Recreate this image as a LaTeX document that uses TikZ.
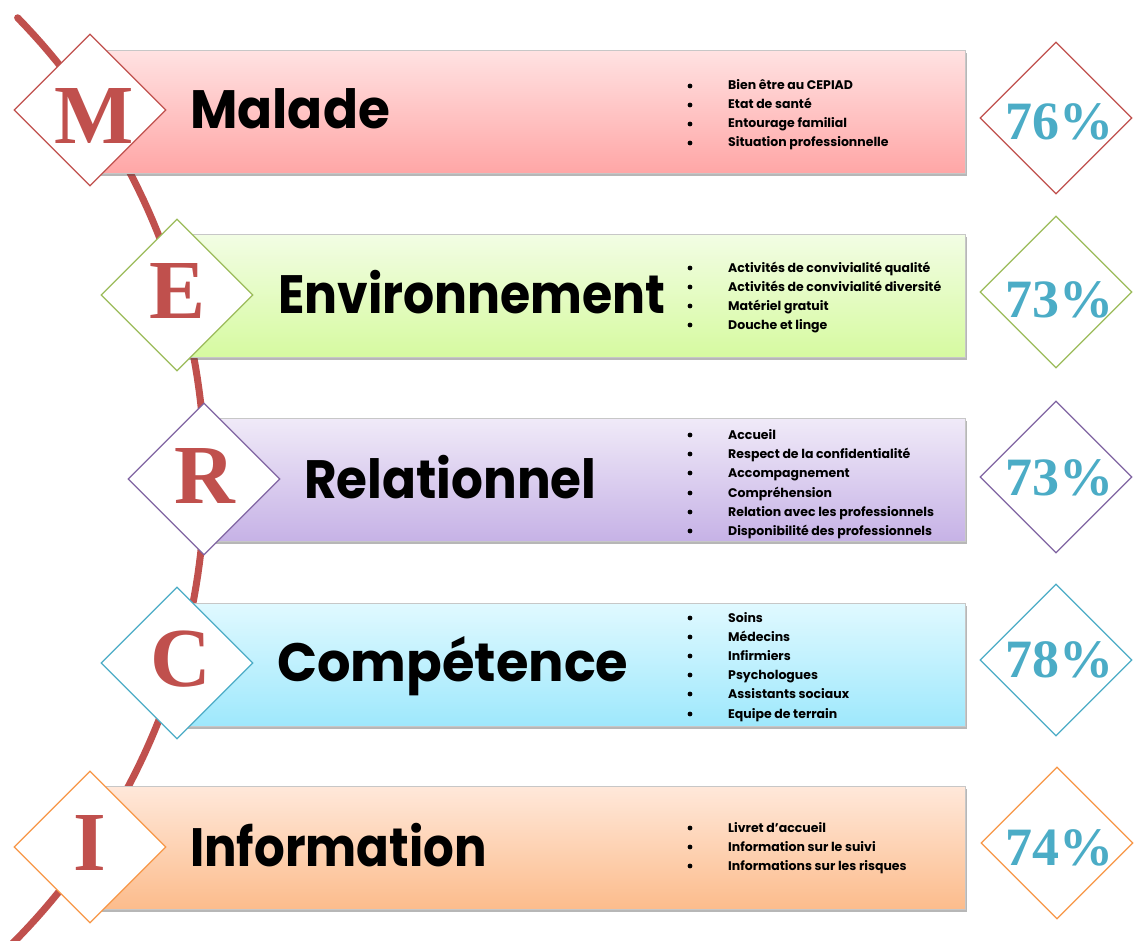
\documentclass[tikz,border=0pt]{standalone}
\usepackage{fontspec}
\usepackage{graphicx}
\setmainfont{Poppins}
\newfontfamily\serifb{Liberation Serif}
\usetikzlibrary{shapes.geometric,shadows}
\definecolor{cred}{RGB}{192,80,77}
\definecolor{cgreen}{RGB}{155,187,89}
\definecolor{cpurple}{RGB}{128,100,162}
\definecolor{caqua}{RGB}{75,172,198}
\definecolor{corange}{RGB}{247,150,70}
\definecolor{ra}{RGB}{255,226,226}\definecolor{rb}{RGB}{255,166,166}
\definecolor{ga}{RGB}{242,253,228}\definecolor{gb}{RGB}{214,250,160}
\definecolor{pa}{RGB}{240,234,248}\definecolor{pb}{RGB}{198,178,230}
\definecolor{aa}{RGB}{224,249,255}\definecolor{ab}{RGB}{158,232,252}
\definecolor{oa}{RGB}{255,232,218}\definecolor{ob}{RGB}{252,188,140}
\tikzset{
  bandbox/.style={draw=black!22, line width=0.7pt, anchor=north west, minimum height=123pt, inner sep=0pt,
    drop shadow={shadow xshift=2pt, shadow yshift=-3pt, opacity=0.4, fill=black!70}},
  lozenge/.style={diamond, draw=#1, fill=white, line width=1.2pt, minimum size=152pt, inner sep=0pt},
  letter/.style={text=cred, font=\serifb\bfseries\fontsize{84}{84}\selectfont, anchor=base, inner sep=0pt},
  pct/.style={text=caqua, font=\serifb\bfseries\fontsize{54}{54}\selectfont, anchor=base, inner sep=0pt},
  title/.style={font=\bfseries\fontsize{54}{54}\selectfont, anchor=base west, inner sep=0pt},
  item/.style={font=\bfseries\fontsize{12.5}{12.5}\selectfont, anchor=base west, inner sep=0pt},
  dot/.style={circle, fill=black, inner sep=0pt, minimum size=4.8pt},
  arcline/.style={draw=cred, line width=7pt, line cap=round}
}
\newcommand\bitem[3]{\node[dot] (#1d) at (690,#2-4) {}; \node[item] (#1) at (728,#2) {#3};}
\begin{document}
\begin{tikzpicture}[x=1pt,y=-1pt]
\useasboundingbox[fill=white] (0,0) rectangle (1134,941);
% curve
\draw[arcline] plot[domain=-44.3:46,samples=90] ({-454+659*cos(\x)},{478+659*sin(\x)});
% bands
\node[bandbox, top color=ra, bottom color=rb, minimum width=875pt] (b1) at (90,50) {};
\node[bandbox, top color=ga, bottom color=gb, minimum width=788pt] (b2) at (177,234) {};
\node[bandbox, top color=pa, bottom color=pb, minimum width=761pt] (b3) at (204,418) {};
\node[bandbox, top color=aa, bottom color=ab, minimum width=788pt] (b4) at (177,603) {};
\node[bandbox, top color=oa, bottom color=ob, minimum width=875pt] (b5) at (90,786) {};
% left diamonds
\node[lozenge=cred] (d1) at (90,110) {};
\node[lozenge=cgreen] (d2) at (177,295) {};
\node[lozenge=cpurple] (d3) at (204,479) {};
\node[lozenge=caqua] (d4) at (177,663) {};
\node[lozenge=corange] (d5) at (90,847) {};
\node[letter] (l1) at (94,144) {M};
\node[letter] (l2) at (178,318) {E};
\node[letter] (l3) at (205,503) {R};
\node[letter] (l4) at (181,686) {C};
\node[letter] (l5) at (90,870) {I};
% right diamonds
\node[lozenge=cred] (p1) at (1056,118) {};
\node[lozenge=cgreen] (p2) at (1056,292) {};
\node[lozenge=cpurple] (p3) at (1056,477) {};
\node[lozenge=caqua] (p4) at (1056,660) {};
\node[lozenge=corange] (p5) at (1057,843) {};
\node[pct] (q1) at (1059,140) {76\%};
\node[pct] (q2) at (1059,317) {73\%};
\node[pct] (q3) at (1059,495) {73\%};
\node[pct] (q4) at (1059,677) {78\%};
\node[pct] (q5) at (1059,865) {74\%};
% titles
\node[title] (t1) at (190,129) {\scalebox{0.957}[1]{Malade}};
\node[title] (t2) at (278,313) {\scalebox{0.906}[1]{Environnement}};
\node[title] (t3) at (304,498) {\scalebox{0.927}[1]{Relationnel}};
\node[title] (t4) at (277,681) {\scalebox{0.975}[1]{Compétence}};
\node[title] (t5) at (190,866) {\scalebox{0.894}[1]{Information}};
% items
\bitem{i11}{90}{Bien être au CEPIAD}
\bitem{i12}{109}{Etat de santé}
\bitem{i13}{128}{Entourage familial}
\bitem{i14}{147}{Situation professionnelle}
\bitem{i21}{272}{Activités de convivialité qualité}
\bitem{i22}{291}{Activités de convivialité diversité}
\bitem{i23}{310}{Matériel gratuit}
\bitem{i24}{329}{Douche et linge}
\bitem{i31}{439}{Accueil}
\bitem{i32}{458}{Respect de la confidentialité}
\bitem{i33}{477}{Accompagnement}
\bitem{i34}{497}{Compréhension}
\bitem{i35}{516}{Relation avec les professionnels}
\bitem{i36}{535}{Disponibilité des professionnels}
\bitem{i41}{622}{Soins}
\bitem{i42}{641}{Médecins}
\bitem{i43}{660}{Infirmiers}
\bitem{i44}{679}{Psychologues}
\bitem{i45}{698}{Assistants sociaux}
\bitem{i46}{718}{Equipe de terrain}
\bitem{i51}{832}{Livret d’accueil}
\bitem{i52}{851}{Information sur le suivi}
\bitem{i53}{870}{Informations sur les risques}
\end{tikzpicture}
\end{document}
